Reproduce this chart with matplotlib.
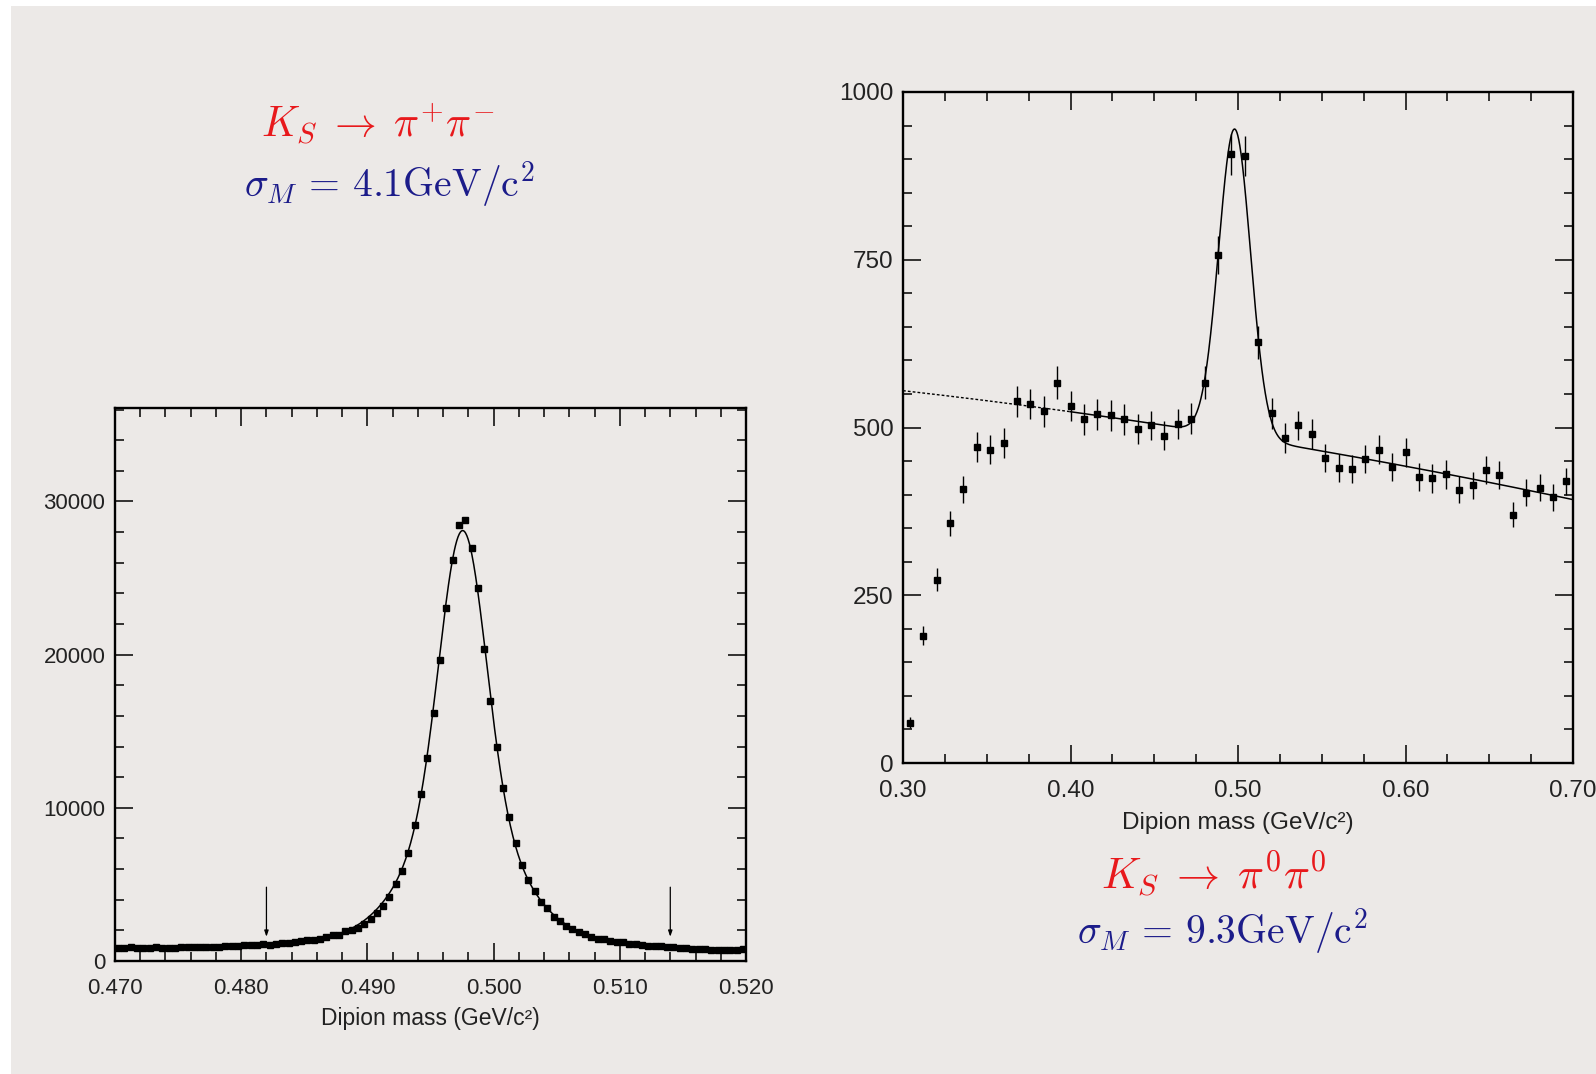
import numpy as np
import matplotlib
matplotlib.use('Agg')
import matplotlib.pyplot as plt
from matplotlib.patches import Rectangle
from matplotlib.ticker import MultipleLocator, FormatStrFormatter

plt.rcParams['mathtext.fontset'] = 'cm'
plt.rcParams['font.family'] = ['Liberation Sans', 'DejaVu Sans']

# K_S -> pi+ pi- : 100 bins of 0.0005 GeV between 0.470 and 0.520
mpm_lo, mpm_hi, mpm_nbins = 0.470, 0.520, 100
mpm_counts = [850, 850, 920, 850, 850, 850, 920, 880, 850, 880,
              900, 940, 940, 940, 940, 940, 940, 960, 960, 980,
              1050, 1030, 1070, 1090, 1070, 1135, 1180, 1200, 1240, 1290,
              1350, 1400, 1460, 1570, 1720, 1720, 1940, 2000, 2150, 2430,
              2740, 3120, 3560, 4160, 5030, 5890, 7040, 8880, 10870, 13260,
              16200, 19650, 23070, 26210, 28480, 28790, 26970, 24370, 20400, 16960,
              13970, 11310, 9420, 7690, 6280, 5310, 4590, 3880, 3450, 2860,
              2580, 2260, 2110, 1890, 1780, 1570, 1460, 1420, 1310, 1240,
              1240, 1110, 1090, 1070, 960, 980, 960, 920, 900, 850,
              850, 810, 770, 810, 750, 750, 750, 750, 750, 770]
# fit: linear background + three gaussians (amplitude, sigma), common mean
mpm_bg = (870, 740)
mpm_mean = 0.49755
mpm_gaus = [(18000, 0.0018), (8000, 0.0038), (1300, 0.0085)]
mpm_arrows = [0.482, 0.514]

# K_S -> pi0 pi0 : 50 bins of 0.008 GeV between 0.30 and 0.70
m00_lo, m00_hi, m00_nbins = 0.30, 0.70, 50
m00_counts = [60, 190, 273, 357, 408, 471, 467, 477, 539, 535,
              524, 567, 532, 512, 520, 518, 512, 498, 503, 488,
              505, 513, 567, 757, 907, 905, 627, 521, 484, 503,
              490, 455, 440, 438, 453, 467, 441, 463, 426, 424,
              430, 407, 414, 437, 429, 370, 403, 410, 396, 420]
m00_errors = [8, 14, 17, 19, 20, 22, 22, 22, 23, 23,
              23, 24, 23, 23, 23, 23, 23, 22, 22, 22,
              22, 23, 24, 28, 30, 30, 25, 23, 22, 22,
              22, 21, 21, 21, 21, 22, 21, 22, 21, 21,
              21, 20, 20, 21, 21, 19, 20, 20, 20, 20]
# fit: quadratic background around 0.40 + gaussian, fitted on 0.40-0.70
m00_bg = (523.5, -344.5, -307.0)
m00_gaus = (458, 0.498, 0.0095)
m00_fit_lo = 0.40

bg_col = '#ECE9E7'
red = '#E8191C'
blue = '#1C1C8A'

fig = plt.figure(figsize=(15.96, 10.74), dpi=100, facecolor='white')
fig.patches.append(Rectangle((11 / 1596, 0), 1, 1 - 6 / 1074, transform=fig.transFigure,
                             facecolor=bg_col, edgecolor='none', zorder=-10))


def style_axes(ax, fs):
    ax.set_facecolor(bg_col)
    for sp in ax.spines.values():
        sp.set_linewidth(1.7)
    ax.tick_params(which='both', direction='in', top=True, right=True, width=1.1,
                   labelsize=fs, labelcolor='#222222')
    ax.tick_params(which='major', length=13)
    ax.tick_params(which='minor', length=6.5)
    ax.tick_params(axis='x', which='major', pad=12)
    ax.tick_params(axis='y', which='major', pad=7)


# ---- left panel: pi+ pi-
ax1 = fig.add_axes([115 / 1596, 1 - 961 / 1074, 631 / 1596, 553 / 1074])
style_axes(ax1, 16)
w = (mpm_hi - mpm_lo) / mpm_nbins
x1 = mpm_lo + w * (np.arange(mpm_nbins) + 0.5)
xf = np.linspace(mpm_lo, mpm_hi, 1000)
yf = mpm_bg[0] + (mpm_bg[1] - mpm_bg[0]) * (xf - mpm_lo) / (mpm_hi - mpm_lo)
for a, s in mpm_gaus:
    yf = yf + a * np.exp(-0.5 * ((xf - mpm_mean) / s) ** 2)
ax1.plot(xf, yf, color='black', lw=1.1)
ax1.plot(x1, mpm_counts, 's', color='black', ms=3.7)
for xa in mpm_arrows:
    ax1.annotate('', xy=(xa, 1400), xytext=(xa, 5000),
                 arrowprops=dict(arrowstyle='-|>,head_length=0.35,head_width=0.12',
                                 color='black', lw=0.9))
ax1.set_xlim(mpm_lo, mpm_hi)
ax1.set_ylim(0, 36100)
ax1.xaxis.set_major_locator(MultipleLocator(0.01))
ax1.xaxis.set_minor_locator(MultipleLocator(0.002))
ax1.xaxis.set_major_formatter(FormatStrFormatter('%.3f'))
ax1.yaxis.set_major_locator(MultipleLocator(10000))
ax1.yaxis.set_minor_locator(MultipleLocator(2000))
ax1.set_xlabel('Dipion mass (GeV/c²)', fontsize=16.5, color='#222222', labelpad=6)

# ---- right panel: pi0 pi0
ax2 = fig.add_axes([903 / 1596, 1 - 763 / 1074, 670 / 1596, 671 / 1074])
style_axes(ax2, 17.5)
w2 = (m00_hi - m00_lo) / m00_nbins
x2 = m00_lo + w2 * (np.arange(m00_nbins) + 0.5)


def m00_fit(x):
    u = x - m00_fit_lo
    a, mu, s = m00_gaus
    return m00_bg[0] + m00_bg[1] * u + m00_bg[2] * u ** 2 + a * np.exp(-0.5 * ((x - mu) / s) ** 2)


xd = np.linspace(m00_lo, m00_fit_lo, 200)
xs = np.linspace(m00_fit_lo, m00_hi, 1500)
ax2.plot(xd, m00_fit(xd), color='black', lw=1.0, ls=(0, (2, 1.5)))
ax2.plot(xs, m00_fit(xs), color='black', lw=1.1)
ax2.errorbar(x2, m00_counts, yerr=m00_errors, fmt='s', color='black', ms=4.3,
             elinewidth=1.0, capsize=0)
ax2.set_xlim(m00_lo, m00_hi)
ax2.set_ylim(0, 1000)
ax2.xaxis.set_major_locator(MultipleLocator(0.1))
ax2.xaxis.set_minor_locator(MultipleLocator(0.025))
ax2.xaxis.set_major_formatter(FormatStrFormatter('%.2f'))
ax2.yaxis.set_major_locator(MultipleLocator(250))
ax2.yaxis.set_minor_locator(MultipleLocator(50))
ax2.set_xlabel('Dipion mass (GeV/c²)', fontsize=17.5, color='#222222', labelpad=7.5)

# ---- labels
fig.text(378 / 1596, 1 - 124 / 1074, r'$K_S\;\rightarrow\;\pi^{\!+}\!\pi^{\!-}$', color=red,
         fontsize=30, ha='center', va='center')
fig.text(389 / 1596, 1 - 185 / 1074, r'$\sigma_M\,=\,4.1\mathrm{GeV/c^2}$', color=blue,
         fontsize=28.5, ha='center', va='center')
fig.text(1214 / 1596, 1 - 875 / 1074, r'$K_S\;\rightarrow\;\pi^0\pi^0$', color=red,
         fontsize=31, ha='center', va='center')
fig.text(1222 / 1596, 1 - 932 / 1074, r'$\sigma_M\,=\,9.3\mathrm{GeV/c^2}$', color=blue,
         fontsize=28.5, ha='center', va='center')

fig.savefig('out.png', dpi=100, facecolor=fig.get_facecolor())
